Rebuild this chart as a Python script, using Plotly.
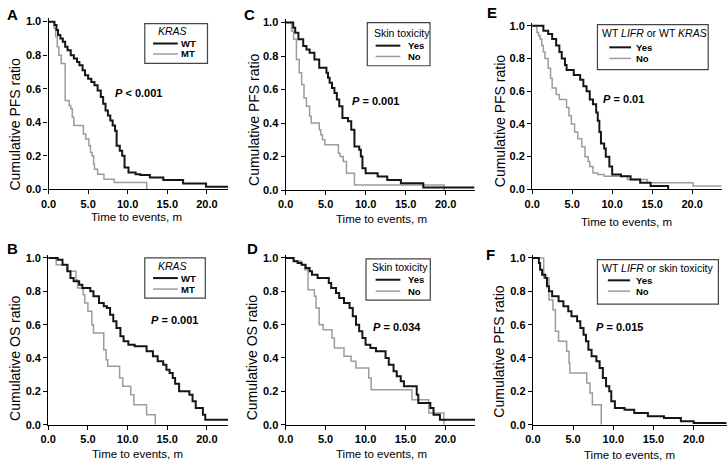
import plotly.graph_objects as go

W, H = 727, 465
FONT = "Liberation Sans, Arial, sans-serif"
BLACK = "#151515"
GRAY = "#9c9c9c"

# ---- A: PFS by KRAS ----
a_wt_t = [0, 0.75, 1.0, 1.2, 1.5, 1.8, 2.1, 2.4, 2.8, 3.2, 3.6, 3.9, 4.3, 4.6, 5.0, 5.4, 5.8, 6.2, 6.6, 6.9,
          7.2, 7.5, 7.8, 8.1, 8.4, 8.6, 9.0, 9.3, 9.6, 10.1, 11.0, 11.6, 12.8, 14.5, 17.0, 19.9, 22.7]
a_wt_s = [1.0, 0.98, 0.95, 0.92, 0.9, 0.88, 0.85, 0.83, 0.8, 0.78, 0.76, 0.74, 0.71, 0.68, 0.66, 0.64, 0.62, 0.59, 0.55, 0.51,
          0.47, 0.44, 0.41, 0.38, 0.35, 0.26, 0.23, 0.2, 0.13, 0.1, 0.09, 0.085, 0.07, 0.055, 0.035, 0.015, 0.015]
a_mt_t = [0, 0.7, 0.9, 1.1, 1.3, 1.6, 2.1, 2.6, 2.8, 3.0, 3.2, 4.4, 4.7, 5.1, 5.3, 5.5, 5.7, 5.8, 6.2, 7.0, 8.3, 12.4]
a_mt_s = [1.0, 0.96, 0.91, 0.85, 0.8, 0.75, 0.53, 0.5, 0.48, 0.43, 0.38, 0.33, 0.3, 0.26, 0.22, 0.2, 0.15, 0.12, 0.09, 0.06, 0.04, 0.0]

# ---- C: PFS by skin toxicity ----
c_yes_t = [0, 0.95, 1.2, 1.6, 2.2, 2.6, 3.0, 3.6, 4.2, 5.1, 5.3, 5.5, 5.8, 6.1, 6.4, 6.7, 7.1, 7.8, 8.2, 8.6,
           9.2, 9.4, 9.6, 10.0, 11.5, 12.7, 14.4, 17.2, 23.6]
c_yes_s = [1.0, 0.97, 0.94, 0.9, 0.86, 0.84, 0.82, 0.78, 0.73, 0.7, 0.67, 0.64, 0.61, 0.58, 0.54, 0.5, 0.43, 0.41, 0.36, 0.26,
           0.24, 0.2, 0.13, 0.1, 0.08, 0.06, 0.04, 0.015, 0.015]
c_no_t = [0, 0.75, 1.0, 1.35, 1.7, 2.0, 2.3, 2.6, 3.0, 3.2, 4.2, 4.4, 4.6, 4.9, 6.6, 6.8, 7.2, 7.6, 8.6, 19.8]
c_no_s = [1.0, 0.95, 0.9, 0.78, 0.7, 0.63, 0.55, 0.5, 0.44, 0.4, 0.36, 0.33, 0.3, 0.27, 0.22, 0.2, 0.17, 0.1, 0.03, 0.0]

# ---- E: PFS by WT LIFR or WT KRAS ----
e_yes_t = [0, 1.4, 2.0, 2.5, 3.0, 3.4, 3.7, 4.1, 4.3, 5.2, 6.0, 6.4, 6.8, 7.2, 7.6, 8.0, 8.2, 8.4, 8.6, 9.0,
           9.2, 9.65, 10.0, 11.1, 12.3, 13.5, 14.8, 17.0]
e_yes_s = [1.0, 0.97, 0.95, 0.92, 0.88, 0.84, 0.8, 0.76, 0.73, 0.7, 0.67, 0.63, 0.6, 0.55, 0.52, 0.47, 0.42, 0.35, 0.28, 0.25,
           0.2, 0.14, 0.09, 0.08, 0.06, 0.04, 0.02, 0.0]
e_no_t = [0, 0.6, 0.8, 1.0, 1.2, 1.4, 1.6, 2.0, 2.3, 2.5, 3.0, 3.4, 4.3, 4.6, 4.9, 5.3, 5.7, 6.2, 6.6, 7.0,
          7.2, 7.6, 8.2, 9.0, 11.9, 14.4, 20.1, 23.7]
e_no_s = [1.0, 0.96, 0.94, 0.92, 0.88, 0.84, 0.8, 0.74, 0.68, 0.62, 0.58, 0.55, 0.5, 0.45, 0.4, 0.35, 0.31, 0.26, 0.2, 0.17,
          0.14, 0.1, 0.09, 0.08, 0.06, 0.04, 0.02, 0.02]

# ---- B: OS by KRAS ----
b_wt_t = [0, 1.2, 1.8, 2.4, 2.8, 3.2, 3.9, 4.3, 5.3, 5.7, 6.4, 7.0, 7.4, 7.8, 8.2, 8.6, 9.1, 9.5, 10.1, 10.9,
          12.4, 13.2, 13.8, 14.5, 14.9, 15.3, 15.7, 16.0, 16.5, 17.8, 18.2, 18.6, 19.5, 19.8, 22.7]
b_wt_s = [1.0, 0.99, 0.96, 0.92, 0.88, 0.86, 0.84, 0.82, 0.8, 0.77, 0.73, 0.71, 0.7, 0.66, 0.62, 0.58, 0.53, 0.5, 0.48, 0.47,
          0.44, 0.41, 0.38, 0.36, 0.33, 0.31, 0.28, 0.245, 0.2, 0.18, 0.14, 0.1, 0.06, 0.03, 0.03]
b_mt_t = [0, 1.0, 2.5, 3.5, 3.7, 4.4, 4.6, 5.0, 5.5, 5.7, 7.0, 7.3, 7.5, 9.0, 9.4, 10.4, 10.8, 12.4, 13.5]
b_mt_s = [1.0, 0.96, 0.92, 0.87, 0.82, 0.78, 0.73, 0.68, 0.6, 0.55, 0.45, 0.39, 0.35, 0.28, 0.23, 0.18, 0.12, 0.06, 0.0]

# ---- D: OS by skin toxicity ----
d_yes_t = [0, 1.0, 1.5, 2.0, 2.5, 3.0, 3.3, 4.0, 5.4, 5.7, 6.3, 6.7, 7.3, 8.0, 8.4, 8.8, 9.2, 9.6, 10.0, 10.6,
           11.3, 12.5, 12.9, 13.5, 13.9, 14.4, 14.8, 16.4, 16.6, 18.1, 18.5, 19.3, 23.7]
d_yes_s = [1.0, 0.98, 0.97, 0.96, 0.94, 0.92, 0.9, 0.88, 0.85, 0.82, 0.79, 0.76, 0.73, 0.7, 0.65, 0.6, 0.56, 0.52, 0.48, 0.46,
           0.44, 0.4, 0.36, 0.32, 0.29, 0.26, 0.23, 0.18, 0.13, 0.1, 0.06, 0.03, 0.03]
d_no_t = [0, 1.0, 2.0, 2.4, 2.8, 3.6, 3.8, 4.2, 4.7, 5.8, 6.1, 7.3, 8.2, 8.8, 10.4, 10.7, 15.8, 17.9, 19.8]
d_no_s = [1.0, 0.98, 0.96, 0.93, 0.81, 0.77, 0.7, 0.6, 0.57, 0.52, 0.46, 0.41, 0.38, 0.34, 0.28, 0.21, 0.15, 0.07, 0.0]

# ---- F: PFS by WT LIFR or skin toxicity ----
f_yes_t = [0, 0.75, 0.9, 1.15, 1.55, 1.75, 2.0, 2.4, 3.2, 3.8, 4.4, 4.8, 5.5, 5.9, 6.3, 6.6, 6.9, 7.3, 7.9, 8.3,
           8.7, 9.1, 9.5, 9.75, 10.2, 11.4, 12.6, 14.3, 16.3, 18.4, 20.0, 24.1]
f_yes_s = [1.0, 0.97, 0.93, 0.9, 0.88, 0.83, 0.8, 0.77, 0.74, 0.71, 0.68, 0.65, 0.62, 0.58, 0.54, 0.5, 0.45, 0.41, 0.38, 0.34,
           0.28, 0.23, 0.2, 0.14, 0.1, 0.09, 0.07, 0.05, 0.04, 0.02, 0.01, 0.01]
f_no_t = [0, 1.35, 2.0, 2.5, 2.8, 3.2, 4.2, 4.5, 4.6, 6.7, 7.1, 7.4, 8.5]
f_no_s = [1.0, 0.88, 0.75, 0.69, 0.56, 0.5, 0.44, 0.37, 0.31, 0.25, 0.19, 0.12, 0.0]


def fx(p):
    return p / W


def fy(p):
    return 1 - p / H


# pixel boxes of each panel's axes: x0, x1, y(1.0), y(0.0), x max
panels = [
    dict(letter="A", box=(41, 222.7, 19, 190, 22.7), letter_xy=(5, 12),
         ytitle="Cumulative PFS ratio", ytitle_xy=(7, 124), xtitle_xy=(130, 218),
         black=(a_wt_t, a_wt_s), gray=(a_mt_t, a_mt_s),
         pval="<b><i>P</i> &lt; 0.001</b>", pval_xy=(132, 92),
         leg=dict(box=(138.3, 21, 201.7, 61.5), title="<i>KRAS</i>", title_xy=(150, 28.7),
                  lx=(146.7, 171.7), rows=(41.3, 52), lab_x=173, labels=("WT", "MT"))),
    dict(letter="C", box=(280.7, 471.7, 20, 190.7, 23.6), letter_xy=(244, 12),
         ytitle="Cumulative PFS ratio", ytitle_xy=(248, 119), xtitle_xy=(377.5, 220),
         black=(c_yes_t, c_yes_s), gray=(c_no_t, c_no_s),
         pval="<b><i>P</i> = 0.001</b>", pval_xy=(372, 100),
         leg=dict(box=(363.3, 20, 426.7, 64), title="Skin toxicity", title_xy=(367.7, 30.5),
                  lx=(371.7, 396.7), rows=(43.5, 54.5), lab_x=402, labels=("Yes", "No"))),
    dict(letter="E", box=(530, 721.7, 23.3, 190, 23.7), letter_xy=(489, 10),
         ytitle="Cumulative PFS ratio", ytitle_xy=(497, 121), xtitle_xy=(625, 223),
         black=(e_yes_t, e_yes_s), gray=(e_no_t, e_no_s),
         pval="<b><i>P</i> = 0.01</b>", pval_xy=(622, 98),
         leg=dict(box=(596, 22, 708, 68), title="WT <i>LIFR</i> or WT <i>KRAS</i>", title_xy=(599, 31),
                  lx=(608, 630), rows=(45.2, 56.5), lab_x=633, labels=("Yes", "No"))),
    dict(letter="B", box=(40.7, 222.7, 260, 430, 22.7), letter_xy=(5, 250),
         ytitle="Cumulative OS ratio", ytitle_xy=(7, 362), xtitle_xy=(131, 460),
         black=(b_wt_t, b_wt_s), gray=(b_mt_t, b_mt_s),
         pval="<b><i>P</i> = 0.001</b>", pval_xy=(168, 323),
         leg=dict(box=(138.3, 260, 199.5, 301), title="<i>KRAS</i>", title_xy=(150, 267.8),
                  lx=(146.7, 171.7), rows=(280.5, 291.7), lab_x=173, labels=("WT", "MT"))),
    dict(letter="D", box=(280.7, 472.3, 260, 430, 23.7), letter_xy=(247, 250),
         ytitle="Cumulative OS ratio", ytitle_xy=(247, 362), xtitle_xy=(377.5, 460),
         black=(d_yes_t, d_yes_s), gray=(d_no_t, d_no_s),
         pval="<b><i>P</i> = 0.034</b>", pval_xy=(393, 330),
         leg=dict(box=(362, 261, 427, 303), title="Skin toxicity", title_xy=(366.5, 269.5),
                  lx=(371.7, 396.7), rows=(282.2, 293.8), lab_x=402, labels=("Yes", "No"))),
    dict(letter="F", box=(530.7, 726.7, 260, 430, 24.1), letter_xy=(488, 256),
         ytitle="Cumulative PFS ratio", ytitle_xy=(497, 356), xtitle_xy=(628, 461),
         black=(f_yes_t, f_yes_s), gray=(f_no_t, f_no_s),
         pval="<b><i>P</i> = 0.015</b>", pval_xy=(618, 330),
         leg=dict(box=(596, 261.7, 718.3, 307), title="WT <i>LIFR</i> or skin toxicity", title_xy=(599, 270),
                  lx=(606.5, 629), rows=(282.8, 293.8), lab_x=633, labels=("Yes", "No"))),
]

fig = go.Figure()
annotations = []
shapes = []
YTOP = 1.02

for i, p in enumerate(panels, start=1):
    sfx = "" if i == 1 else str(i)
    x0, x1, y1px, y0px, xmax = p["box"]
    span = y0px - y1px
    for (t, s), color, width in ((p["gray"], GRAY, 1.5), (p["black"], BLACK, 2)):
        fig.add_trace(go.Scatter(x=t, y=s, mode="lines", line=dict(color=color, width=width, shape="hv"),
                                 xaxis="x" + sfx, yaxis="y" + sfx, showlegend=False, hoverinfo="skip"))
    axis_common = dict(showline=True, linecolor="black", linewidth=1.2, ticks="outside", ticklen=4,
                       tickwidth=1.2, tickcolor="black", showgrid=False, zeroline=False,
                       tickfont=dict(family=FONT, size=11, color="black", weight="bold"), tickformat=".1f")
    fig.update_layout({
        "xaxis" + sfx: dict(axis_common, domain=[fx(x0), fx(x1)], range=[0, xmax], dtick=5, tick0=0,
                            anchor="y" + sfx),
        "yaxis" + sfx: dict(axis_common, domain=[fy(y0px), fy(y1px - (YTOP - 1) * span)], range=[0, YTOP],
                            dtick=0.2, tick0=0, anchor="x" + sfx),
    })
    # panel letter, axis titles, p-value
    annotations.append(dict(text="<b>%s</b>" % p["letter"], x=fx(p["letter_xy"][0]), y=fy(p["letter_xy"][1]),
                            font=dict(size=15)))
    annotations.append(dict(text=p["ytitle"], x=fx(p["ytitle_xy"][0]), y=fy(p["ytitle_xy"][1]),
                            textangle=-90, font=dict(size=14)))
    annotations.append(dict(text="Time to events, m", x=fx(p["xtitle_xy"][0]), y=fy(p["xtitle_xy"][1]),
                            font=dict(size=11.5)))
    annotations.append(dict(text=p["pval"], x=fx(p["pval_xy"][0]), y=fy(p["pval_xy"][1]), font=dict(size=11)))
    # legend box
    lg = p["leg"]
    bx0, by0, bx1, by1 = lg["box"]
    shapes.append(dict(type="rect", xref="paper", yref="paper", x0=fx(bx0), x1=fx(bx1), y0=fy(by1), y1=fy(by0),
                       line=dict(color="#444", width=1.2), fillcolor="white", layer="above"))
    annotations.append(dict(text=lg["title"], x=fx(lg["title_xy"][0]), y=fy(lg["title_xy"][1]), xanchor="left",
                            font=dict(size=10.5)))
    for row, color, width, lab in zip(lg["rows"], (BLACK, GRAY), (2, 1.5), lg["labels"]):
        shapes.append(dict(type="line", xref="paper", yref="paper", x0=fx(lg["lx"][0]), x1=fx(lg["lx"][1]),
                           y0=fy(row), y1=fy(row), line=dict(color=color, width=width), layer="above"))
        annotations.append(dict(text="<b>%s</b>" % lab, x=fx(lg["lab_x"]), y=fy(row), xanchor="left",
                                font=dict(size=9.5)))

for a in annotations:
    a.setdefault("xref", "paper")
    a.setdefault("yref", "paper")
    a.setdefault("showarrow", False)
    a.setdefault("xanchor", "center")
    a.setdefault("yanchor", "middle")
    a["font"].setdefault("family", FONT)
    a["font"].setdefault("color", "black")

fig.update_layout(width=W, height=H, margin=dict(l=0, r=0, t=0, b=0), paper_bgcolor="white",
                  plot_bgcolor="white", annotations=annotations, shapes=shapes,
                  font=dict(family=FONT, color="black"))
# drop the browser's default 8px body margin so the figure sits at the window origin
fig.write_html("out.html", config={"displayModeBar": False},
               post_script="document.body.style.margin='0';")
